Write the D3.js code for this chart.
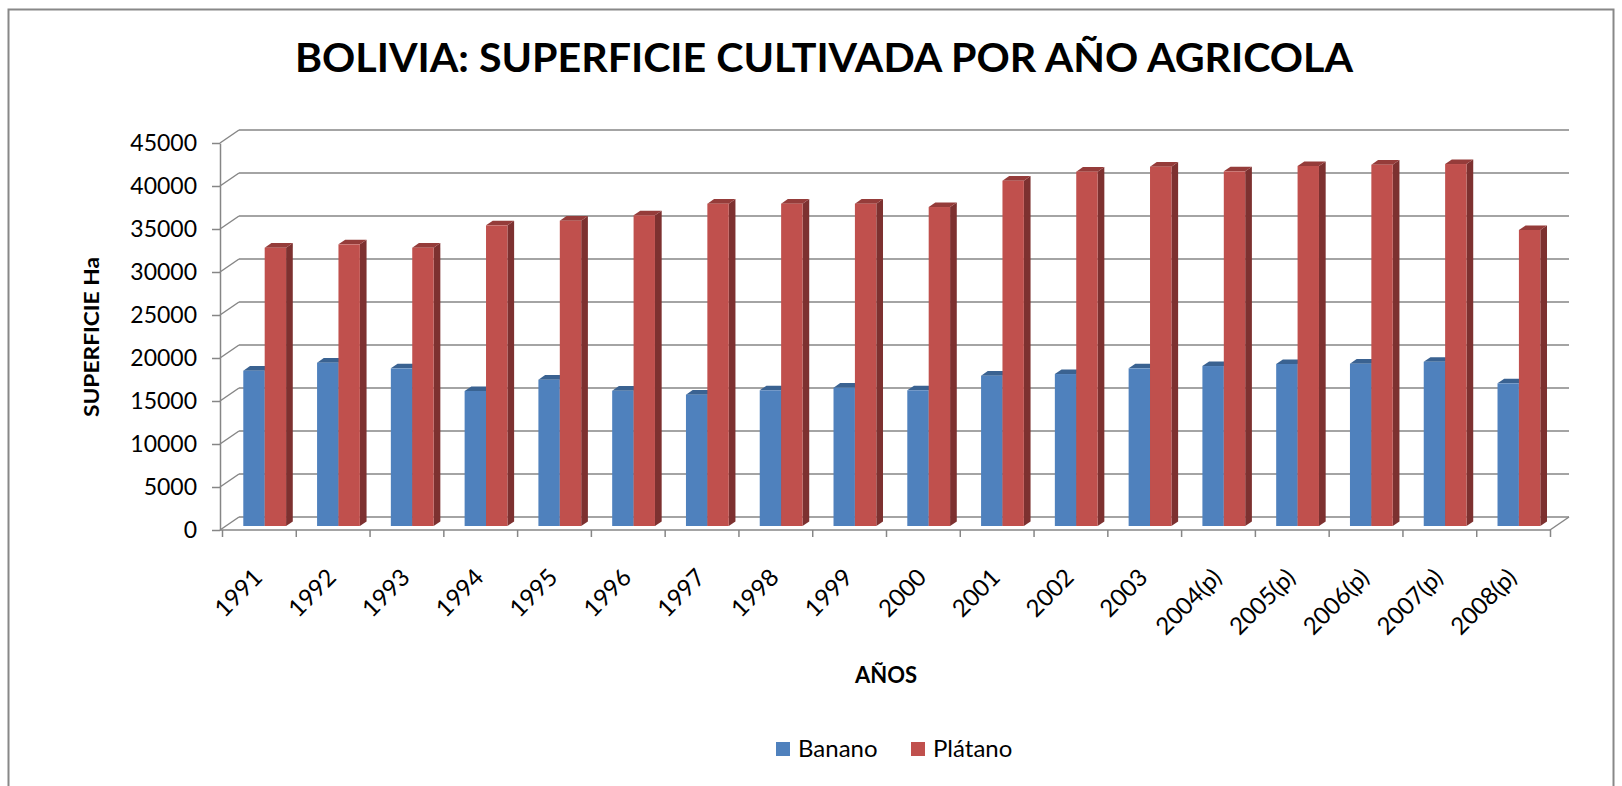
<!DOCTYPE html>
<html>
<head>
<meta charset="utf-8">
<script src="https://cdn.jsdelivr.net/npm/d3@7"></script>
<style>
    body { margin: 0; background: #fff; }
    svg { display: block; font-family: Lato, "Open Sans", sans-serif; }
    .axis text { font-family: Lato, "Open Sans", sans-serif; font-size: 23px; fill: #000; }
    .axis path, .axis line { stroke: #868686; stroke-width: 1.5; }
    .xlabels text { font-size: 24px; }
</style>
</head>
<body>
<div id="chart"></div>
<script>
// Años agrícolas
const years = ["1991", "1992", "1993", "1994", "1995", "1996", "1997", "1998", "1999",
    "2000", "2001", "2002", "2003", "2004(p)", "2005(p)", "2006(p)", "2007(p)", "2008(p)"];

// Superficie cultivada (Ha)
const banano = [18060, 18990, 18330, 15700, 17010, 15730, 15270, 15780, 16080,
    15780, 17480, 17670, 18330, 18600, 18840, 18870, 19100, 16590];
const platano = [32360, 32750, 32360, 34960, 35500, 36130, 37480, 37480, 37480,
    37090, 40150, 41200, 41780, 41240, 41860, 42010, 42090, 34420];

const seriesNames = ["Banano", "Plátano"];
const yTicks = [0, 5000, 10000, 15000, 20000, 25000, 30000, 35000, 40000, 45000];

const width = 1622, height = 786;

// Colours: front, top, side
const COLORS = {
    Banano: ["#4f81bd", "#3a6291", "#34577f"],
    "Plátano": ["#c0504d", "#953c3a", "#7d3130"],
};

// Plot box (front plane) and 3D offsets
const plotLeft = 220, plotRight = 1550, plotBottom = 530, plotTop = 143;
const wallDX = 19, wallDY = -13;      // back wall offset
const barDX = 5.8, barDY = -4;        // bar front plane offset
const depthX = 6.7, depthY = -4.6;    // bar depth

const svg = d3.select("#chart").append("svg")
    .attr("width", width)
    .attr("height", height);

// Outer frame
svg.append("rect")
    .attr("x", 8.5).attr("y", 9.5)
    .attr("width", 1605).attr("height", 800)
    .attr("fill", "none")
    .attr("stroke", "#888")
    .attr("stroke-width", 2);

// Title
svg.append("text")
    .attr("x", 824).attr("y", 72)
    .attr("text-anchor", "middle")
    .attr("font-size", 40)
    .attr("font-weight", "bold")
    .attr("textLength", 1058)
    .attr("lengthAdjust", "spacingAndGlyphs")
    .text("BOLIVIA: SUPERFICIE CULTIVADA POR AÑO AGRICOLA");

// Scales
const y = d3.scaleLinear().domain([0, 45000]).range([plotBottom, plotTop]);
const x0 = d3.scaleBand().domain(years).range([plotLeft + 2, plotRight])
    .paddingInner(0.42).paddingOuter(0.21);
const x1 = d3.scaleBand().domain(seriesNames).range([0, x0.bandwidth()]);
const xIdx = d3.scaleLinear().domain([0, years.length]).range([plotLeft + 2, plotRight]);

// Walls: side diagonals + back gridlines
const grid = svg.append("g").attr("stroke", "#868686").attr("stroke-width", 1.5).attr("fill", "none");
grid.selectAll(".side")
    .data(yTicks)
    .enter()
    .append("line")
    .attr("x1", plotLeft).attr("y1", d => y(d))
    .attr("x2", plotLeft + wallDX).attr("y2", d => y(d) + wallDY);
grid.selectAll(".back")
    .data(yTicks)
    .enter()
    .append("line")
    .attr("x1", plotLeft + wallDX).attr("y1", d => y(d) + wallDY)
    .attr("x2", plotRight + wallDX).attr("y2", d => y(d) + wallDY);
// Floor front edge + right diagonal
grid.append("line")
    .attr("x1", plotLeft).attr("y1", y(0))
    .attr("x2", plotRight).attr("y2", y(0));
grid.append("line")
    .attr("x1", plotRight).attr("y1", y(0))
    .attr("x2", plotRight + wallDX).attr("y2", y(0) + wallDY);

// Y axis
svg.append("g")
    .attr("class", "axis")
    .attr("transform", `translate(${plotLeft},0)`)
    .call(d3.axisLeft(y).tickValues(yTicks).tickSize(8).tickSizeOuter(0).tickPadding(15).tickFormat(d3.format("d")));

// X axis ticks at category boundaries
svg.append("g")
    .attr("class", "axis")
    .attr("transform", `translate(0,${plotBottom})`)
    .call(d3.axisBottom(xIdx).tickValues(d3.range(years.length + 1)).tickSize(7).tickFormat(""))
    .call(g => g.select(".domain").remove());

// X labels, rotated
svg.append("g")
    .attr("class", "axis xlabels")
    .selectAll("text")
    .data(years)
    .enter()
    .append("text")
    .attr("text-anchor", "end")
    .attr("transform", d => `translate(${x0(d) + x0.bandwidth() / 2 + 5},579) rotate(-45)`)
    .text(d => d);

// Bars (3D columns)
function drawBar(g, x, w, yTop, yBot, cols) {
    g.append("path")
        .attr("d", `M${x + w},${yTop}L${x + w + depthX},${yTop + depthY}L${x + w + depthX},${yBot + depthY}L${x + w},${yBot}Z`)
        .attr("fill", cols[2]);
    g.append("path")
        .attr("d", `M${x},${yTop}L${x + depthX},${yTop + depthY}L${x + w + depthX},${yTop + depthY}L${x + w},${yTop}Z`)
        .attr("fill", cols[1]);
    g.append("rect")
        .attr("x", x).attr("y", yTop)
        .attr("width", w).attr("height", yBot - yTop)
        .attr("fill", cols[0]);
}

const bars = svg.append("g").attr("transform", `translate(${barDX},${barDY})`);
years.forEach((yr, i) => {
    const g = bars.append("g");
    drawBar(g, x0(yr) + x1("Banano"), x1.bandwidth(), y(banano[i]), y(0), COLORS.Banano);
    drawBar(g, x0(yr) + x1("Plátano"), x1.bandwidth(), y(platano[i]), y(0), COLORS["Plátano"]);
});

// Axis titles
svg.append("text")
    .attr("transform", "translate(99,337) rotate(-90)")
    .attr("text-anchor", "middle")
    .attr("font-size", 20)
    .attr("font-weight", "bold")
    .attr("textLength", 160)
    .attr("lengthAdjust", "spacingAndGlyphs")
    .text("SUPERFICIE Ha");

svg.append("text")
    .attr("x", 886).attr("y", 683)
    .attr("text-anchor", "middle")
    .attr("font-size", 22)
    .attr("font-weight", "bold")
    .text("AÑOS");

// Legend
const legendX = [776, 911];
const legend = svg.append("g")
    .selectAll("g")
    .data(seriesNames)
    .enter()
    .append("g")
    .attr("transform", (d, i) => `translate(${legendX[i]},742)`);
legend.append("rect")
    .attr("width", 14).attr("height", 14)
    .attr("fill", d => COLORS[d][0]);
legend.append("text")
    .attr("x", 22).attr("y", 15)
    .attr("font-size", 24)
    .text(d => d);
</script>
</body>
</html>
